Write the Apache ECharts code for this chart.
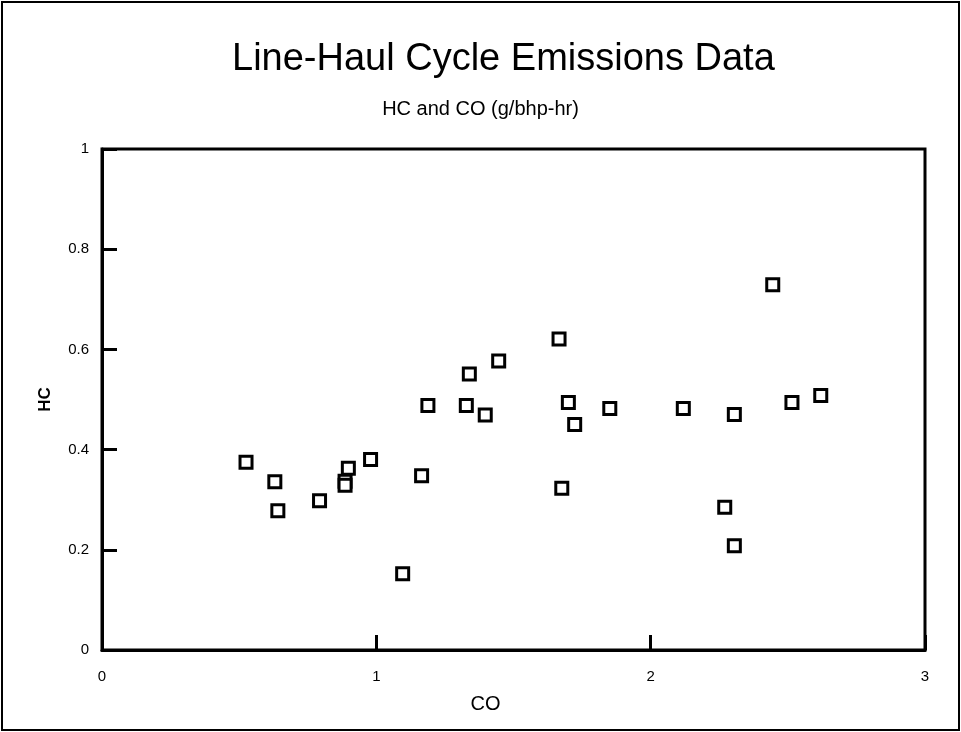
<!DOCTYPE html>
<html>
<head>
<meta charset="utf-8">
<script src="https://cdn.jsdelivr.net/npm/echarts@6/dist/echarts.min.js"></script>
<style>
  html, body { margin: 0; padding: 0; background: #fff; }
  #chart { width: 961px; height: 732px; }
</style>
</head>
<body>
<div id="chart"></div>
<script>
// CO (x) and HC (y), g/bhp-hr
const coValues = [0.525, 0.630, 0.641, 0.793, 0.898, 0.886, 0.886, 0.979, 1.165, 1.096,
  1.666, 1.446, 1.339, 1.188, 1.328, 1.397, 1.700, 1.723, 1.851, 1.676,
  2.445, 2.119, 2.305, 2.515, 2.620, 2.270, 2.305]
const hcValues = [0.375, 0.336, 0.278, 0.298, 0.363, 0.337, 0.329, 0.380, 0.348, 0.152,
  0.621, 0.577, 0.551, 0.488, 0.488, 0.469, 0.494, 0.450, 0.482, 0.323,
  0.729, 0.482, 0.470, 0.494, 0.508, 0.285, 0.208]

const points = coValues.map((x, i) => [x, hcValues[i]])

const chart = echarts.init(document.getElementById('chart'))
const font = 'Liberation Sans, Arial, sans-serif'

chart.setOption({
  backgroundColor: '#fff',
  animation: false,
  title: [
    {
      text: 'Line-Haul Cycle Emissions Data',
      left: 227,
      top: 36,
      textStyle: { fontFamily: font, fontSize: 38, fontWeight: 'normal', color: '#000' }
    },
    {
      text: 'HC and CO (g/bhp-hr)',
      left: 'center',
      top: 94,
      textStyle: { fontFamily: font, fontSize: 20, fontWeight: 'normal', color: '#000' }
    }
  ],
  graphic: [
    {
      type: 'rect',
      shape: { x: 2, y: 2, width: 957, height: 728 },
      style: { fill: 'none', stroke: '#000', lineWidth: 2 },
      silent: true
    }
  ],
  grid: {
    left: 102, top: 149, right: 36, bottom: 82,
    show: true, borderColor: '#000', borderWidth: 3
  },
  xAxis: {
    type: 'value',
    min: 0, max: 3, interval: 1,
    name: 'CO',
    nameLocation: 'middle',
    nameGap: 44,
    nameTextStyle: { fontFamily: font, fontSize: 20, color: '#000', padding: [0, 56, 0, 0] },
    axisLine: { show: true, lineStyle: { color: '#000', width: 3 } },
    axisTick: { show: true, inside: true, length: 15, lineStyle: { color: '#000', width: 3 } },
    axisLabel: { fontFamily: font, fontSize: 15, color: '#000', margin: 19 },
    splitLine: { show: false }
  },
  yAxis: {
    type: 'value',
    min: 0, max: 1, interval: 0.2,
    name: 'HC',
    nameLocation: 'middle',
    nameGap: 48,
    nameTextStyle: { fontFamily: font, fontSize: 17, fontWeight: 'bold', color: '#000' },
    axisLine: { show: true, lineStyle: { color: '#000', width: 3 } },
    axisTick: { show: true, inside: true, length: 15, lineStyle: { color: '#000', width: 3 } },
    axisLabel: { fontFamily: font, fontSize: 15, color: '#000', margin: 13 },
    splitLine: { show: false }
  },
  series: [
    {
      type: 'scatter',
      data: points,
      symbol: 'rect',
      symbolSize: 12,
      itemStyle: { color: '#fff', borderColor: '#000', borderWidth: 3, opacity: 1 }
    }
  ]
})
</script>
</body>
</html>
